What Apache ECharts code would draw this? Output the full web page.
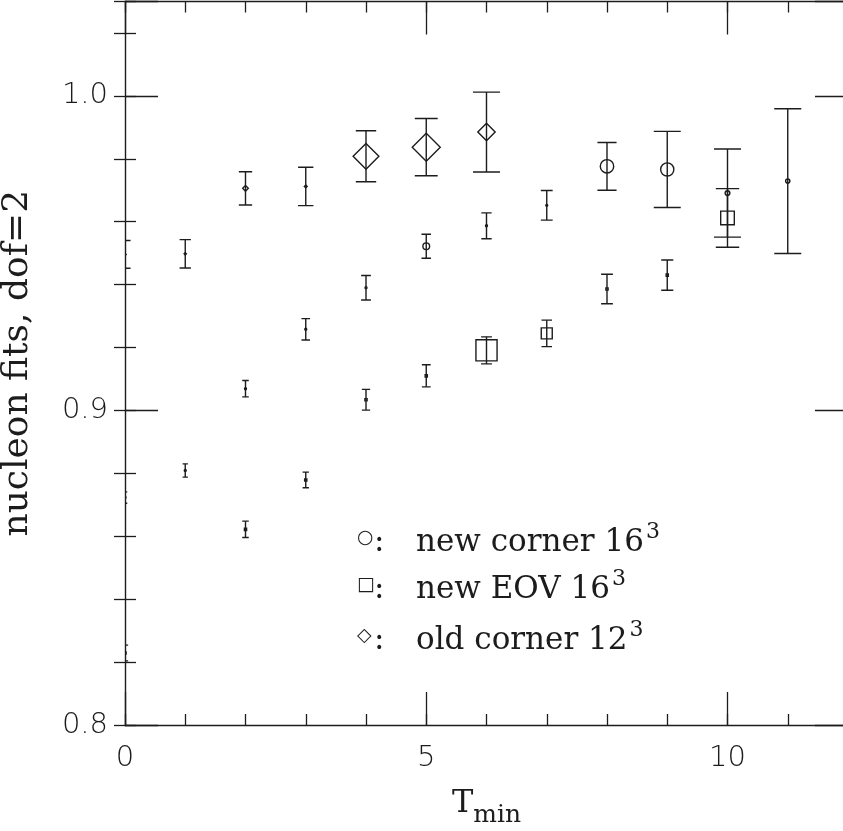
<!DOCTYPE html>
<html>
<head>
<meta charset="utf-8">
<script src="https://cdn.jsdelivr.net/npm/echarts@6/dist/echarts.min.js"></script>
<style>
  html, body { margin: 0; padding: 0; background: #fff; }
  #chart { width: 843px; height: 831px; }
</style>
</head>
<body>
<div id="chart"></div>
<script>
// Fit start times
const tMin = [0, 1, 2, 3, 4, 5, 6, 7, 8, 9, 10, 11];

// new corner source, 16^3 lattice (circles)
const newCorner16    = [0.8723, 0.8809, 0.9069, 0.9258, 0.9390, 0.9522, 0.9587, 0.9652, 0.9776, 0.9766, 0.9691, 0.9729];
const newCorner16Err = [0.0018, 0.0021, 0.0026, 0.0034, 0.0039, 0.0038, 0.0041, 0.0047, 0.0076, 0.0121, 0.0140, 0.0230];
const newCorner16Q   = [0.07, 0.07, 0.07, 0.07, 0.07, 0.24, 0.07, 0.07, 0.48, 0.47, 0.17, 0.15];

// new EOV source, 16^3 lattice (squares); no fit at T = 1
const newEov16    = [0.8229, null, 0.8622, 0.8779, 0.9034, 0.9110, 0.9191, 0.9245, 0.9386, 0.9430, 0.9612, null];
const newEov16Err = [0.0025, null, 0.0026, 0.0025, 0.0033, 0.0035, 0.0043, 0.0042, 0.0047, 0.0048, 0.0093, null];
const newEov16Q   = [0.05, null, 0.05, 0.05, 0.05, 0.05, 0.48, 0.25, 0.05, 0.05, 0.31, null];

// old corner source, 12^3 lattice (diamonds), T = 0..6
const oldCorner12    = [0.9496, 0.9498, 0.9706, 0.9712, 0.9808, 0.9837, 0.9885, null, null, null, null, null];
const oldCorner12Err = [0.0044, 0.0045, 0.0053, 0.0061, 0.0081, 0.0091, 0.0127, null, null, null, null, null];
const oldCorner12Q   = [0.04, 0.04, 0.10, 0.05, 0.46, 0.50, 0.31, null, null, null, null, null];

// Key entries drawn inside the frame
const keySymbols = ['○', '□', '◇'];
const keyLabels  = ['new corner 16', 'new EOV 16', 'old corner 12'];
const keyPowers  = ['3', '3', '3'];

const yTitle = 'nucleon fits, dof=2';

const INK = '#1c1c1c';
const SERIF = 'DejaVu Serif';
const SANS = 'DejaVu Sans';

function rows(values, errors, quality) {
  const out = [];
  tMin.forEach(function (t, i) {
    if (values[i] != null) out.push([t, values[i], errors[i], quality[i]]);
  });
  return out;
}

// Error bar with caps plus an open marker whose size follows the fit quality
function errorMarker(shape, scale) {
  return function (params, api) {
    const t = api.value(0), v = api.value(1), e = api.value(2), q = api.value(3);
    const c = api.coord([t, v]);
    const top = api.coord([t, v + e])[1];
    const bot = api.coord([t, v - e])[1];
    const half = Math.min(13.5, 0.2 * (bot - top));
    const line = { stroke: INK, lineWidth: 1.4 };
    const r = Math.max(1, q * scale);
    let mark;
    if (shape === 'circle') {
      mark = { type: 'circle', shape: { cx: c[0], cy: c[1], r: r } };
    } else if (shape === 'square') {
      mark = { type: 'rect', shape: { x: c[0] - r, y: c[1] - r, width: 2 * r, height: 2 * r } };
    } else {
      mark = { type: 'polygon', shape: { points: [[c[0], c[1] - r], [c[0] + r, c[1]], [c[0], c[1] + r], [c[0] - r, c[1]]] } };
    }
    mark.style = { stroke: INK, lineWidth: 1.4, fill: 'none' };
    return {
      type: 'group',
      children: [
        { type: 'line', shape: { x1: c[0], y1: top, x2: c[0], y2: bot }, style: line },
        { type: 'line', shape: { x1: c[0] - half, y1: top, x2: c[0] + half, y2: top }, style: line },
        { type: 'line', shape: { x1: c[0] - half, y1: bot, x2: c[0] + half, y2: bot }, style: line },
        mark
      ]
    };
  };
}

const frameLine = { show: true, onZero: false, lineStyle: { color: INK, width: 1.4 } };
const noLine = { show: false };
const tickStyle = { color: INK, width: 1.3 };
const numberLabel = { color: INK, fontFamily: SANS, fontWeight: 200, fontSize: 29 };

const xBase = { type: 'value', min: 0, max: 12, splitLine: { show: false } };
const yBase = { type: 'value', min: 0.8, max: 1.03, splitLine: { show: false } };

function xAxisSet(pos, major) {
  return Object.assign({}, xBase, {
    position: pos,
    interval: major ? 5 : 1,
    axisLine: major ? frameLine : noLine,
    axisTick: { inside: true, length: major ? 33 : 11, lineStyle: tickStyle },
    axisLabel: { show: false }
  });
}
function yAxisSet(pos, major) {
  return Object.assign({}, yBase, {
    position: pos,
    interval: major ? 0.1 : 0.02,
    axisLine: major ? frameLine : noLine,
    axisTick: { inside: true, length: major ? 33 : 11, lineStyle: tickStyle },
    axisLabel: { show: false }
  });
}

const xMain = xAxisSet('bottom', true);
xMain.axisLabel = Object.assign({ show: true, margin: 19, formatter: function (v) { return v > 11 ? '' : String(v); } }, numberLabel);
xMain.name = '{t|T}{s|min}';
xMain.nameLocation = 'middle';
xMain.nameGap = 63;
xMain.nameTextStyle = {
  rich: {
    t: { fontFamily: SERIF, fontSize: 32, color: INK, lineHeight: 34, verticalAlign: 'top' },
    s: { fontFamily: SERIF, fontSize: 25, color: INK, lineHeight: 25, padding: [15, 0, 0, 0], verticalAlign: 'top' }
  }
};

const yMain = yAxisSet('left', true);
yMain.axisLabel = Object.assign({ show: true, margin: 17, formatter: function (v) { return v > 1.01 ? '' : v.toFixed(1); } }, numberLabel);
yMain.name = yTitle;
yMain.nameLocation = 'middle';
yMain.nameGap = 89;
yMain.nameTextStyle = { fontFamily: SERIF, fontSize: 36, color: INK };

const keyTops = [521, 568, 619];
const keyGraphics = keySymbols.map(function (sym, i) {
  return {
    type: 'text',
    left: 357,
    top: keyTops[i],
    z: 10,
    style: {
      text: '{sym|' + sym + '}{col|:}{txt|' + keyLabels[i] + '}{sup|' + keyPowers[i] + '}',
      rich: {
        sym: { fontFamily: SANS, fontSize: 19, fill: INK, width: 17, lineHeight: 19, padding: [6, 0, 0, 0], verticalAlign: 'top' },
        col: { fontFamily: SERIF, fontSize: 31, fill: INK, width: 42, lineHeight: 36, padding: [4, 0, 0, 0], verticalAlign: 'top' },
        txt: { fontFamily: SERIF, fontSize: 31, fill: INK, lineHeight: 36, padding: [4, 0, 0, 0], verticalAlign: 'top' },
        sup: { fontFamily: SERIF, fontSize: 22, fill: INK, lineHeight: 22, padding: [-2, 0, 0, 2], verticalAlign: 'top' }
      }
    }
  };
});

const chart = echarts.init(document.getElementById('chart'), null, { renderer: 'canvas' });
chart.setOption({
  animation: false,
  backgroundColor: '#fff',
  grid: { left: 125, right: -5, top: 1.5, bottom: 106, containLabel: false, outerBoundsMode: 'none' },
  xAxis: [xMain, xAxisSet('bottom', false), xAxisSet('top', true), xAxisSet('top', false)],
  yAxis: [yMain, yAxisSet('left', false), yAxisSet('right', true), yAxisSet('right', false)],
  graphic: keyGraphics,
  series: [
    {
      name: 'new corner 16³', type: 'custom', xAxisIndex: 0, yAxisIndex: 0, clip: true,
      encode: { x: 0, y: 1 }, data: rows(newCorner16, newCorner16Err, newCorner16Q),
      renderItem: errorMarker('circle', 14)
    },
    {
      name: 'new EOV 16³', type: 'custom', xAxisIndex: 0, yAxisIndex: 0, clip: true,
      encode: { x: 0, y: 1 }, data: rows(newEov16, newEov16Err, newEov16Q),
      renderItem: errorMarker('square', 22)
    },
    {
      name: 'old corner 12³', type: 'custom', xAxisIndex: 0, yAxisIndex: 0, clip: true,
      encode: { x: 0, y: 1 }, data: rows(oldCorner12, oldCorner12Err, oldCorner12Q),
      renderItem: errorMarker('diamond', 28)
    }
  ]
});
</script>
</body>
</html>
